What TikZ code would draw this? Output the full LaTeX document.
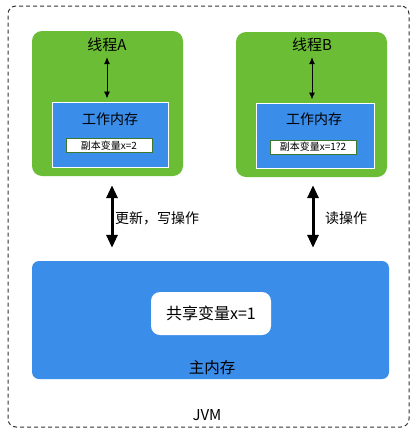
\documentclass[tikz,border=0pt]{standalone}
\usepackage{fontspec}
\setmainfont{Noto Sans CJK SC}
\usetikzlibrary{arrows.meta}
\definecolor{thrgreen}{RGB}{106,189,53}
\definecolor{memblue}{RGB}{59,141,234}
\definecolor{boxgreen}{RGB}{60,120,45}
\begin{document}
\begin{tikzpicture}[x=1pt,y=-1pt,
  box/.style={rectangle,inner sep=0pt,anchor=center},
  thread/.style={box,fill=thrgreen,rounded corners=10pt,minimum width=151pt,minimum height=145pt},
  workmem/.style={box,fill=memblue,draw=white,line width=1pt,minimum height=65pt},
  copybox/.style={box,fill=white,draw=boxgreen,line width=1pt,minimum width=86pt,minimum height=14pt,font=\fontsize{10}{12}\selectfont},
  lbl/.style={inner sep=0pt,font=\fontsize{14}{16}\selectfont},
  thinarrow/.style={line width=0.9pt,{Latex[length=7pt,width=6pt]}-{Latex[length=7pt,width=6pt]}},
  bigarrow/.style={line width=3pt,{Triangle[length=13pt,width=11pt]}-{Triangle[length=13pt,width=11pt]}}
]
\useasboundingbox (0,0) rectangle (417,432);
\fill[white] (0,0) rectangle (417,432);
% JVM outer
\node[box,draw=black!80,dash pattern=on 4pt off 3pt,line width=1pt,rounded corners=8pt,
  minimum width=401pt,minimum height=421pt] (jvm) at (208.5,216.5) {};
\node[lbl,font=\fontsize{15}{17}\selectfont] (jvmlbl) at (207,415) {JVM};
% threads
\node[thread] (thrA) at (107.5,103.5) {};
\node[thread] (thrB) at (311.5,104.5) {};
\node[lbl,font=\fontsize{15}{17}\selectfont] (labA) at (107,45) {线程A};
\node[lbl,font=\fontsize{15}{17}\selectfont] (labB) at (312,45) {线程B};
\node[workmem,minimum width=116pt] (wmA) at (110,134.5) {};
\node[workmem,minimum width=118pt] (wmB) at (315,135.5) {};
\node[lbl] (wmlabA) at (110,119) {工作内存};
\node[lbl] (wmlabB) at (314,119) {工作内存};
\node[copybox] (cpA) at (109,145.5) {副本变量x=2};
\node[copybox] (cpB) at (313,147) {副本变量x=1?2};
\draw[thinarrow] ([yshift=-5pt]labA.south) -- ([yshift=3pt]labA.south |- wmA.north);
\draw[thinarrow] ([yshift=-5pt]labB.south) -- ([yshift=3pt]labB.south |- wmB.north);
% main memory
\node[box,fill=memblue,rounded corners=7pt,minimum width=357pt,minimum height=118pt] (main) at (210.5,320) {};
\node[box,fill=white,rounded corners=9pt,minimum width=120pt,minimum height=43pt,
  font=\fontsize{16}{18}\selectfont] (shared) at (211,313.5) {共享变量x=1};
\node[lbl,font=\fontsize{15.5}{18}\selectfont] (mainlbl) at (212,368) {主内存};
% big arrows
\draw[bigarrow,shorten <=9pt,shorten >=13pt] ([xshift=4.5pt]thrA.south) -- ([xshift=4.5pt]thrA.south |- main.north);
\draw[bigarrow,shorten <=8pt,shorten >=13pt] ([xshift=1.5pt]thrB.south) -- ([xshift=1.5pt]thrB.south |- main.north);
\node[lbl,anchor=west] (wlbl) at (115,218) {更新，写操作};
\node[lbl,anchor=west] (rlbl) at (325,218) {读操作};
\end{tikzpicture}
\end{document}
